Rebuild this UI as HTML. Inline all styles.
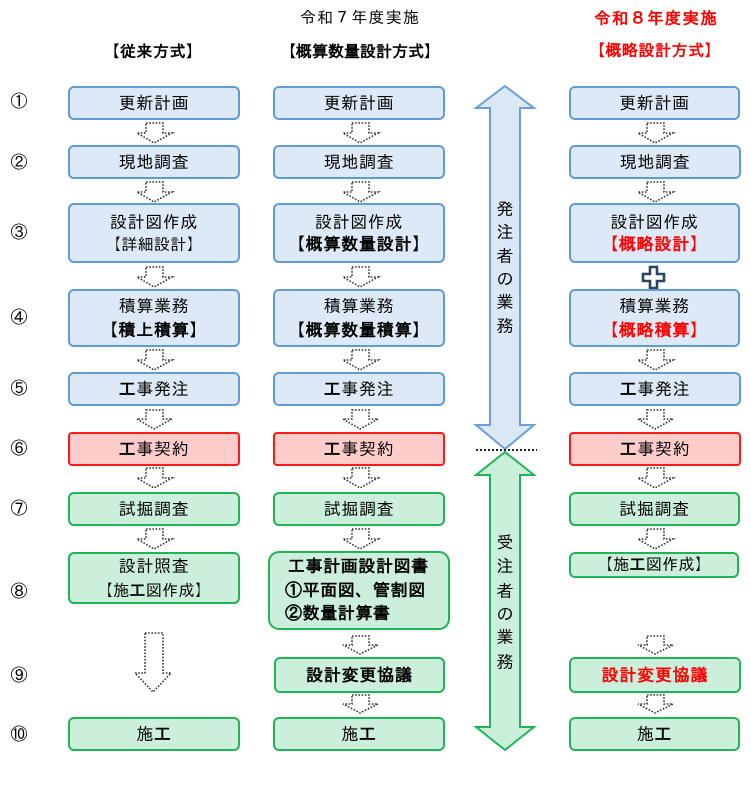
<!DOCTYPE html>
<html><head><meta charset="utf-8">
<style>
html,body{margin:0;padding:0;background:#fff;}
body{width:751px;height:789px;position:relative;overflow:hidden;font-family:"Liberation Sans","IPAGothic","Noto Sans CJK JP",sans-serif;color:#000;}
.b{position:absolute;box-sizing:border-box;border:2px solid;border-radius:6px;display:flex;align-items:center;justify-content:center;text-align:center;font-size:17px;letter-spacing:0.6px;line-height:22px;padding-top:2px;}
.b>span{display:block;white-space:nowrap;}
.bl{background:#dde9f6;border-color:#5f9bd6;}
.rd{background:#ffcccc;border-color:#ff1a1a;border-radius:4px;}
.gr{background:#ccefdb;border-color:#22b356;}
.n{position:absolute;left:9px;width:20px;text-align:center;font-size:17px;line-height:20px;}
.h{position:absolute;text-align:center;white-space:nowrap;}
.r{color:#ff0000;}
.bo{font-weight:bold;letter-spacing:0.5px;}
.s16{font-size:16px;letter-spacing:0.3px;}
.s17{font-size:17px;letter-spacing:0.8px;}
.vt{position:absolute;left:496px;width:18px;text-align:center;font-size:17px;line-height:18px;}
svg{position:absolute;left:0;top:0;}
</style></head><body>
<svg width="751" height="789" viewBox="0 0 751 789">
<g fill="#fff" stroke="#333" stroke-width="1.6" stroke-dasharray="1.6 1.6">
<polygon points="146,123 163,123 163,133 172,133 154,143 137,133 146,133"/>
<polygon points="146,182 163,182 163,192 172,192 154,202 137,192 146,192"/>
<polygon points="146,267 163,267 163,277 172,277 154,287 137,277 146,277"/>
<polygon points="146,350 163,350 163,360 172,360 154,370 137,360 146,360"/>
<polygon points="146,410 163,410 163,419 172,419 154,429 137,419 146,419"/>
<polygon points="146,468 163,468 163,478 172,478 154,488 137,478 146,478"/>
<polygon points="146,529 163,529 163,539 172,539 154,549 137,539 146,539"/>
<polygon points="145,633 163,633 163,673 171,673 153,692 135,673 145,673"/>
<polygon points="352,123 369,123 369,133 378,133 360,143 343,133 352,133"/>
<polygon points="352,182 369,182 369,192 378,192 360,202 343,192 352,192"/>
<polygon points="352,267 369,267 369,277 378,277 360,287 343,277 352,277"/>
<polygon points="352,350 369,350 369,360 378,360 360,370 343,360 352,360"/>
<polygon points="352,410 369,410 369,419 378,419 360,429 343,419 352,419"/>
<polygon points="352,468 369,468 369,478 378,478 360,488 343,478 352,478"/>
<polygon points="352,529 369,529 369,539 378,539 360,549 343,539 352,539"/>
<polygon points="352,636 369,636 369,645 378,645 360,654 343,645 352,645"/>
<polygon points="352,695 369,695 369,704 378,704 360,713 343,704 352,704"/>
<polygon points="647,123 664,123 664,133 673,133 655,143 638,133 647,133"/>
<polygon points="647,182 664,182 664,192 673,192 655,202 638,192 647,192"/>
<polygon points="647,350 664,350 664,360 673,360 655,370 638,360 647,360"/>
<polygon points="647,410 664,410 664,419 673,419 655,429 638,419 647,419"/>
<polygon points="647,468 664,468 664,478 673,478 655,488 638,478 647,478"/>
<polygon points="647,529 664,529 664,539 673,539 655,549 638,539 647,539"/>
<polygon points="647,636 664,636 664,645 673,645 655,654 638,645 647,645"/>
<polygon points="647,695 664,695 664,704 673,704 655,713 638,704 647,704"/>
</g>
<polygon points="650,267 657,267 657,274 664,274 664,281 657,281 657,288 650,288 650,281 643,281 643,274 650,274" fill="#fff" stroke="#2a4461" stroke-width="2.6" stroke-linejoin="miter"/>
<polygon points="505,86 534,108 520,108 520,425 534,425 505,449 476,425 490,425 490,108 476,108" fill="#dae8f5" stroke="#6a9fd8" stroke-width="2"/>
<polygon points="505,452 534,475 520,475 520,727 534,727 505,750 476,727 490,727 490,475 476,475" fill="#c9eed9" stroke="#22b356" stroke-width="2"/>
<line x1="476" y1="450" x2="537" y2="450" stroke="#222" stroke-width="2" stroke-dasharray="2 2"/>
</svg>

<div class="h" style="left:260px;width:200px;top:9px;font-size:16px;letter-spacing:1.2px;line-height:20px;">令和７年度実施</div>
<div class="h bo" style="left:53px;width:200px;top:43px;font-size:16px;line-height:20px;">【従来方式】</div>
<div class="h bo" style="left:260px;width:200px;top:43px;font-size:16px;line-height:20px;letter-spacing:0px;">【概算数量設計方式】</div>
<div class="h bo r" style="left:556px;width:200px;top:9px;font-size:16.5px;letter-spacing:1.2px;line-height:20px;">令和８年度実施</div>
<div class="h bo r" style="left:555px;width:200px;top:42px;font-size:16px;line-height:20px;">【概略設計方式】</div>

<div class="n" style="top:92px">①</div>
<div class="n" style="top:153px">②</div>
<div class="n" style="top:223px">③</div>
<div class="n" style="top:308px">④</div>
<div class="n" style="top:379px">⑤</div>
<div class="n" style="top:439px">⑥</div>
<div class="n" style="top:499px">⑦</div>
<div class="n" style="top:582px">⑧</div>
<div class="n" style="top:666px">⑨</div>
<div class="n" style="top:725px">⑩</div>

<div class="b bl" style="left:68px;top:86px;width:172px;height:34px;"><span>更新計画</span></div>
<div class="b bl" style="left:68px;top:145px;width:172px;height:34px;"><span>現地調査</span></div>
<div class="b bl" style="left:68px;top:203px;width:172px;height:60px;"><span>設計図作成<br><span class="s16">【詳細設計】</span></span></div>
<div class="b bl" style="left:68px;top:289px;width:172px;height:58px;line-height:24px;"><span>積算業務<br><b class="s17">【積上積算】</b></span></div>
<div class="b bl" style="left:68px;top:372px;width:172px;height:34px;"><span><b>工</b>事発注</span></div>
<div class="b rd" style="left:68px;top:432px;width:172px;height:34px;"><span><b>工</b>事契約</span></div>
<div class="b gr" style="left:68px;top:492px;width:172px;height:34px;"><span>試掘調査</span></div>
<div class="b gr" style="left:68px;top:552px;width:172px;height:52px;line-height:24px;"><span>設計照査<br><span class="s16">【施<b>工</b>図作成】</span></span></div>
<div class="b gr" style="left:68px;top:717px;width:172px;height:34px;"><span>施<b>工</b></span></div>

<div class="b bl" style="left:273px;top:86px;width:172px;height:34px;"><span>更新計画</span></div>
<div class="b bl" style="left:273px;top:145px;width:172px;height:34px;"><span>現地調査</span></div>
<div class="b bl" style="left:273px;top:203px;width:172px;height:60px;"><span>設計図作成<br><b class="s17">【概算数量設計】</b></span></div>
<div class="b bl" style="left:273px;top:289px;width:172px;height:58px;line-height:24px;"><span>積算業務<br><b class="s17">【概算数量積算】</b></span></div>
<div class="b bl" style="left:273px;top:372px;width:172px;height:34px;"><span><b>工</b>事発注</span></div>
<div class="b rd" style="left:273px;top:432px;width:172px;height:34px;"><span><b>工</b>事契約</span></div>
<div class="b gr" style="left:273px;top:492px;width:172px;height:34px;"><span>試掘調査</span></div>
<div class="b gr" style="left:268px;top:551px;width:182px;height:79px;border-radius:11px;justify-content:flex-start;text-align:left;padding-left:18px;padding-top:0;font-weight:bold;font-size:17px;letter-spacing:0.6px;line-height:23.5px;"><span>工事計画設計図書<br><span style="margin-left:-3px">①平面図、管割図</span><br><span style="margin-left:-3px">②数量計算書</span></span></div>
<div class="b gr" style="left:274px;top:657px;width:171px;height:36px;font-weight:bold;font-size:17px;letter-spacing:0.8px;"><span>設計変更協議</span></div>
<div class="b gr" style="left:273px;top:717px;width:172px;height:34px;"><span>施<b>工</b></span></div>

<div class="b bl" style="left:569px;top:86px;width:171px;height:34px;"><span>更新計画</span></div>
<div class="b bl" style="left:569px;top:145px;width:172px;height:34px;"><span>現地調査</span></div>
<div class="b bl" style="left:569px;top:203px;width:171px;height:60px;"><span>設計図作成<br><b class="r s17">【概略設計】</b></span></div>
<div class="b bl" style="left:569px;top:289px;width:171px;height:58px;line-height:24px;"><span>積算業務<br><b class="r s17">【概略積算】</b></span></div>
<div class="b bl" style="left:569px;top:372px;width:172px;height:34px;"><span><b>工</b>事発注</span></div>
<div class="b rd" style="left:569px;top:432px;width:172px;height:34px;"><span><b>工</b>事契約</span></div>
<div class="b gr" style="left:569px;top:492px;width:171px;height:34px;"><span>試掘調査</span></div>
<div class="b gr" style="left:569px;top:552px;width:170px;height:26px;padding-top:1px;"><span class="s16">【施<b>工</b>図作成】</span></div>
<div class="b gr" style="left:569px;top:657px;width:172px;height:36px;font-weight:bold;font-size:17px;letter-spacing:0.8px;color:#ff0000;"><span>設計変更協議</span></div>
<div class="b gr" style="left:569px;top:717px;width:171px;height:34px;"><span>施<b>工</b></span></div>

<div class="vt" style="top:201px">発</div>
<div class="vt" style="top:224px">注</div>
<div class="vt" style="top:248px">者</div>
<div class="vt" style="top:271px">の</div>
<div class="vt" style="top:294px">業</div>
<div class="vt" style="top:318px">務</div>

<div class="vt" style="top:534px">受</div>
<div class="vt" style="top:558px">注</div>
<div class="vt" style="top:583px">者</div>
<div class="vt" style="top:606px">の</div>
<div class="vt" style="top:629px">業</div>
<div class="vt" style="top:654px">務</div>
</body></html>
